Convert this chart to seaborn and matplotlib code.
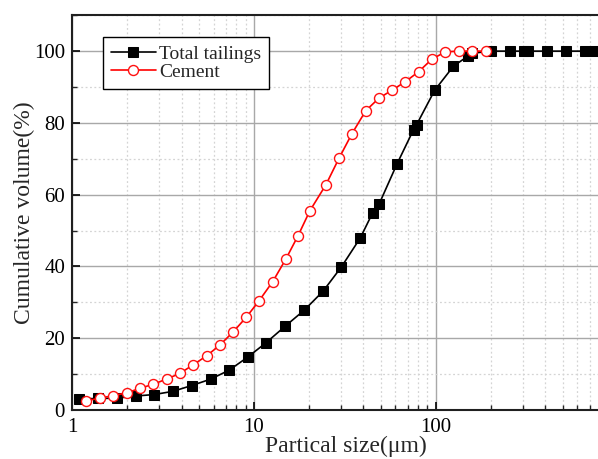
import numpy as np
import pandas as pd
import matplotlib
matplotlib.use("Agg")
import matplotlib.pyplot as plt
import seaborn as sns
from matplotlib.ticker import LogLocator, MultipleLocator, FixedLocator, NullFormatter

sns.set_style("ticks")
plt.rcParams['font.family'] = ['Liberation Serif', 'DejaVu Serif']
plt.rcParams['mathtext.fontset'] = 'stix'

# Total tailings
tail_size = [1.09, 1.39, 1.77, 2.25, 2.83, 3.59, 4.54, 5.79, 7.31, 9.23, 11.7, 14.9,
             18.9, 24.0, 30.3, 38.5, 44.9, 48.9, 61.1, 75.4, 78.4, 98.6, 125, 150, 158,
             202, 255, 305, 322, 406, 518, 660, 748]
tail_vol = [3.1, 3.2, 3.3, 3.9, 4.3, 5.2, 6.8, 8.6, 11.1, 14.7, 18.8, 23.4,
            27.8, 33.1, 39.9, 48.0, 54.9, 57.5, 68.5, 78.1, 79.5, 89.1, 95.8, 98.6, 99.4,
            100, 100, 100, 100, 100, 100, 100, 100]

# Cement
cem_size = [1.19, 1.42, 1.69, 2.0, 2.36, 2.80, 3.31, 3.92, 4.64, 5.50, 6.47, 7.67,
            9.1, 10.7, 12.7, 15.0, 17.5, 20.3, 24.9, 29.4, 34.6, 41.2, 48.7, 57.4,
            68.1, 80.6, 95.3, 113, 134, 158, 188]
cem_vol = [2.5, 3.3, 4.0, 4.8, 6.0, 7.2, 8.6, 10.2, 12.6, 15.1, 18.0, 21.7,
           25.9, 30.5, 35.8, 42.1, 48.6, 55.5, 62.8, 70.2, 77.0, 83.4, 86.9, 89.1,
           91.5, 94.3, 97.8, 99.8, 100, 100, 100]

x_label = "Partical size(\u03bcm)"
y_label = "Cumulative volume(%)"

fig = plt.figure(figsize=(5.98, 4.59), dpi=100)
ax = fig.add_axes([0.1204, 0.1068, 0.8796, 0.8600])

ax.set_xscale('log')
ax.set_axisbelow(True)

sns.lineplot(x=tail_size, y=tail_vol, ax=ax, color='black', marker='s',
             markersize=6.8, markeredgecolor='black', markerfacecolor='black',
             linewidth=1.2, label='Total tailings', sort=False, zorder=3)
sns.lineplot(x=cem_size, y=cem_vol, ax=ax, color='#ff0000', marker='o',
             markersize=7.2, markeredgecolor='#ff1010', markerfacecolor='white',
             markeredgewidth=1.0, linewidth=1.2, label='Cement', sort=False, zorder=4)

ax.set_xlim(1, 779)
ax.set_ylim(0, 110)

ax.xaxis.set_major_locator(FixedLocator([1, 10, 100]))
ax.xaxis.set_major_formatter(matplotlib.ticker.FixedFormatter(['1', '10', '100']))
ax.xaxis.set_minor_locator(LogLocator(base=10, subs=np.arange(2, 10), numticks=20))
ax.xaxis.set_minor_formatter(NullFormatter())
ax.yaxis.set_major_locator(FixedLocator([0, 20, 40, 60, 80, 100]))
ax.yaxis.set_minor_locator(MultipleLocator(10))

ax.grid(which='major', color='#a8a8a8', linewidth=1.0, linestyle='-')
ax.grid(which='minor', color='#d4d4d4', linewidth=0.9, linestyle=(0, (1.5, 2)))

ax.tick_params(which='major', direction='in', length=6, width=1.2, labelsize=15,
               colors='black', pad=5)
ax.tick_params(which='minor', direction='in', length=3.5, width=1.0)
ax.tick_params(axis='x', which='major', pad=6)

for s in ['left', 'bottom', 'top']:
    ax.spines[s].set_linewidth(1.5)
    ax.spines[s].set_color('#202020')
ax.spines['right'].set_visible(False)

ax.set_xlabel(x_label, fontsize=17, labelpad=-1)
ax.xaxis.label.set_x(0.521)
ax.set_ylabel(y_label, fontsize=17, labelpad=-1)

leg = ax.legend(loc='upper left', bbox_to_anchor=(0.059, 0.944), fontsize=14,
                frameon=True, fancybox=False, edgecolor='black', framealpha=1,
                handlelength=2.3, handletextpad=0.2, borderpad=0.4, labelspacing=0.02,
                borderaxespad=0)
leg.get_frame().set_linewidth(1.0)

fig.savefig('out.png', dpi=100)
